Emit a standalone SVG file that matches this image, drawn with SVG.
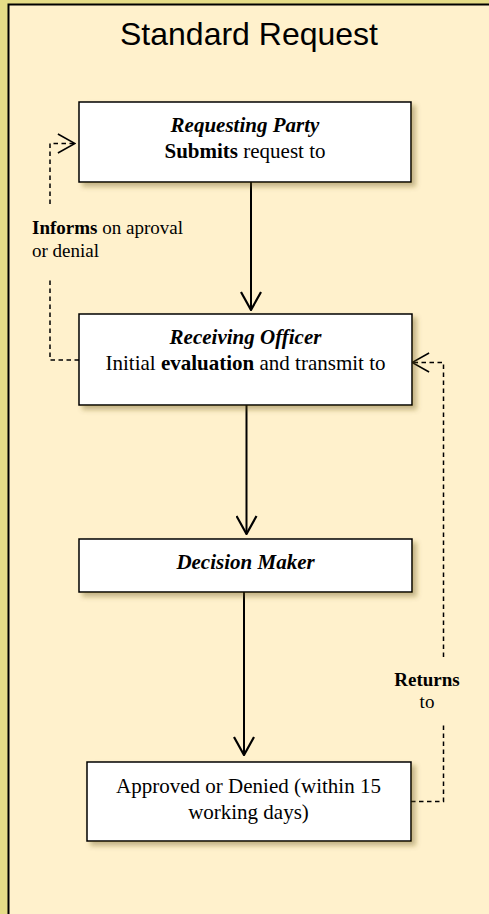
<svg xmlns="http://www.w3.org/2000/svg" width="489" height="914" viewBox="0 0 489 914">
<defs>
<filter id="sh" x="-10%" y="-20%" width="130%" height="150%">
<feDropShadow dx="4" dy="4" stdDeviation="2.5" flood-color="#6b5a1e" flood-opacity="0.4"/>
</filter>
<marker id="ah" viewBox="0 0 20 22" refX="19" refY="11" markerWidth="20" markerHeight="22" markerUnits="userSpaceOnUse" orient="auto">
<path d="M1,1 L19,11 L1,21" fill="none" stroke="#000" stroke-width="2.2"/>
</marker>
<marker id="ahd" viewBox="0 0 20 22" refX="19" refY="11" markerWidth="19" markerHeight="21" markerUnits="userSpaceOnUse" orient="auto">
<path d="M1,1 L19,11 L1,21" fill="none" stroke="#000" stroke-width="1.6"/>
</marker>
</defs>
<style>
.node rect{fill:#fff;stroke:#000;stroke-width:1.5;filter:url(#sh)}
.t{font-family:"Liberation Serif","Times New Roman",serif;font-size:21px;fill:#000;text-anchor:middle}
.lbl{font-family:"Liberation Serif","Times New Roman",serif;font-size:19px;fill:#000}
.b{font-weight:bold}
.bi{font-weight:bold;font-style:italic}
.solid{fill:none;stroke:#000;stroke-width:2;marker-end:url(#ah)}
.dash{fill:none;stroke:#000;stroke-width:1.5;stroke-dasharray:4.5,3.5}
</style>
<rect x="0" y="0" width="489" height="914" fill="#e6dd88"/>
<rect x="8.5" y="4.5" width="490" height="920" fill="#fff1cc" stroke="#000" stroke-width="2"/>
<text x="249" y="45" font-family="'Liberation Sans',Arial,sans-serif" font-size="32" text-anchor="middle" fill="#000">Standard Request</text>

<g id="connectors">
<line class="solid" x1="251" y1="182" x2="251" y2="310"/>
<line class="solid" x1="246.5" y1="405" x2="246.5" y2="534"/>
<line class="solid" x1="244" y1="592" x2="244" y2="755"/>
<path class="dash" d="M79,360 H50 V277"/>
<path class="dash" d="M50,204 V143.5 H75" marker-end="url(#ahd)"/>
<path class="dash" d="M411,801.5 H443.5 V723"/>
<path class="dash" d="M443.5,657 V362.5 H412" marker-end="url(#ahd)"/>
<text class="lbl" x="32" y="234"><tspan class="b">Informs</tspan> on aproval</text>
<text class="lbl" x="32" y="257">or denial</text>
<text class="lbl" x="427" y="686" text-anchor="middle"><tspan class="b">Returns</tspan></text>
<text class="lbl" x="427" y="708" text-anchor="middle">to</text>
</g>

<g id="n1" class="node">
<rect x="79" y="102" width="332" height="80"/>
<text class="t" x="245" y="132"><tspan class="bi">Requesting Party</tspan></text>
<text class="t" x="245" y="157.5"><tspan class="b">Submits</tspan> request to</text>
</g>
<g id="n2" class="node">
<rect x="79" y="314" width="333" height="91"/>
<text class="t" x="245.5" y="343.5"><tspan class="bi">Receiving Officer</tspan></text>
<text class="t" x="245.5" y="369.5">Initial <tspan class="b">evaluation</tspan> and transmit to</text>
</g>
<g id="n3" class="node">
<rect x="79" y="539" width="333" height="53"/>
<text class="t" x="245.5" y="568.5"><tspan class="bi">Decision Maker</tspan></text>
</g>
<g id="n4" class="node">
<rect x="87" y="762" width="324" height="79"/>
<text class="t" x="248.5" y="792.5">Approved or Denied (within 15</text>
<text class="t" x="248.5" y="818.5">working days)</text>
</g>
</svg>
